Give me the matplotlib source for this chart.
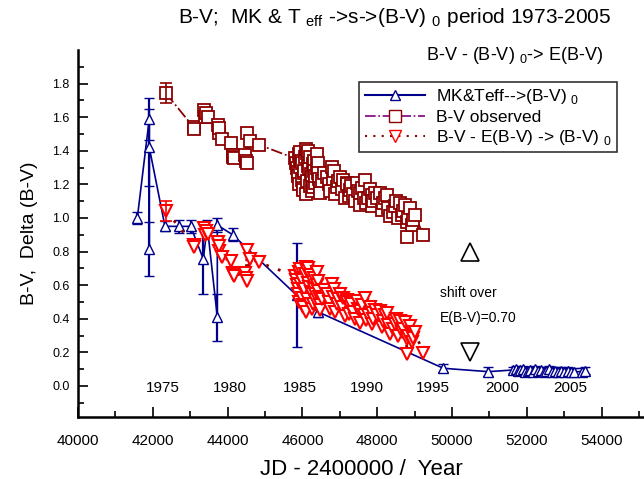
import numpy as np
import matplotlib
matplotlib.use('Agg')
import matplotlib.pyplot as plt
from matplotlib.lines import Line2D

plt.rcParams['font.family'] = ['Liberation Sans', 'DejaVu Sans']
plt.rcParams['mathtext.fontset'] = 'custom'
plt.rcParams['mathtext.rm'] = 'Liberation Sans'

# MK & Teff -> (B-V)0
blue_jd = [41586, 41906, 41906, 41906, 42326, 42700, 43013, 43350, 43457, 43725, 43725, 44136,
           45846, 46426, 49770, 50970,
           51640, 51700, 51760, 51830, 51900, 51960, 52020, 52090, 52160, 52230, 52300, 52380,
           52450, 52520, 52600, 52680, 52750, 52830, 52920, 53000, 53090, 53180, 53260, 53480, 53560]
blue_bv = [1.00, 1.59, 0.815, 1.42, 0.95, 0.95, 0.95, 0.756, 0.95, 0.41, 0.958, 0.90,
           0.54, 0.44, 0.105, 0.085,
           0.095, 0.10, 0.09, 0.095, 0.10, 0.085, 0.09, 0.095, 0.085, 0.10, 0.09, 0.095,
           0.085, 0.09, 0.10, 0.085, 0.09, 0.08, 0.09, 0.085, 0.09, 0.08, 0.085, 0.085, 0.09]
blue_err = [0.035, 0.125, 0.16, 0.23, 0.03, 0.04, 0.04, 0.21, 0.04, 0.14, 0.04, 0.04,
            0.31, 0.03, 0.025, 0.025,
            0.02, 0.02, 0.02, 0.02, 0.02, 0.02, 0.02, 0.02, 0.02, 0.02, 0.02, 0.02,
            0.02, 0.02, 0.02, 0.02, 0.02, 0.02, 0.02, 0.02, 0.02, 0.02, 0.02, 0.02, 0.02]

# B-V observed
obs_jd = [42353, 43090, 43115, 43369, 43400, 43422, 43484, 43752, 43766, 43780, 43841,
          44082, 44136, 44153, 44165, 44465, 44500, 44510, 44520, 44599, 44848,
          45802, 45830, 45850, 45870, 45880, 45900, 45920, 45936, 45936, 45960, 45981,
          46000, 46010, 46025, 46040, 46050, 46070, 46085, 46100, 46120, 46135, 46150,
          46159, 46180, 46200, 46215, 46230, 46249, 46260, 46275, 46292, 46300, 46315,
          46330, 46350, 46382, 46400, 46426, 46426, 46450, 46465, 46480, 46520, 46580,
          46650, 46700, 46740, 46784, 46820, 46850, 46880, 46918, 46960, 47006, 47050,
          47095, 47140, 47180, 47200, 47240, 47273, 47310, 47350, 47400, 47452, 47500,
          47541, 47541, 47600, 47640, 47675, 47710, 47750, 47800, 47853, 47853, 47900,
          47950, 48000, 48076, 48120, 48164, 48200, 48254, 48300, 48350, 48431, 48470,
          48500, 48565, 48610, 48650, 48700, 48740, 48788, 48788, 48830, 48877, 48920,
          48966, 49000, 49233]
obs_bv = [1.742, 1.540, 1.528, 1.643, 1.600, 1.623, 1.603, 1.554, 1.504, 1.534, 1.468,
          1.445, 1.375, 1.365, 1.355, 1.375, 1.340, 1.508, 1.325, 1.458, 1.435,
          1.355, 1.330, 1.300, 1.275, 1.250, 1.200, 1.380, 1.395, 1.305, 1.340, 1.226,
          1.330, 1.180, 1.167, 1.270, 1.280, 1.365, 1.140, 1.410, 1.220, 1.385, 1.310,
          1.400, 1.290, 1.360, 1.190, 1.260, 1.246, 1.160, 1.320, 1.186, 1.340, 1.280,
          1.210, 1.250, 1.381, 1.300, 1.325, 1.266, 1.230, 1.180, 1.150, 1.220, 1.270,
          1.246, 1.200, 1.160, 1.305, 1.230, 1.280, 1.140, 1.186, 1.220, 1.246, 1.170,
          1.226, 1.117, 1.210, 1.200, 1.130, 1.167, 1.190, 1.140, 1.100, 1.206, 1.160,
          1.147, 1.077, 1.180, 1.120, 1.226, 1.090, 1.120, 1.170, 1.137, 1.071, 1.100,
          1.150, 1.120, 1.147, 1.050, 1.087, 1.120, 1.137, 1.060, 1.010, 1.037, 1.070,
          1.100, 0.998, 1.087, 1.020, 1.040, 1.080, 0.978, 0.889, 1.000, 1.058, 0.960,
          0.988, 1.020, 0.899]
obs_err_first = 0.06

# shift over E(B-V) as written on the chart
ebv = 0.70

year_labels = ['1975', '1980', '1985', '1990', '1995', '2000', '2005']
year_x = [42273, 44064, 45936, 47727, 49492, 51337, 53155]

shift_x = 50482
shift_up_y = 0.80
shift_down_y = 0.20

navy = '#00008b'
maroon = '#8b0000'
red = '#ff0000'

obs_jd = np.array(obs_jd)
obs_bv = np.array(obs_bv)
order = np.argsort(obs_jd, kind='stable')
red_bv = obs_bv - ebv

fig = plt.figure(figsize=(6.44, 4.79), dpi=100)
ax = fig.add_axes([78/644, 62/479, 1 - 78/644, 367/479])

# blue
ax.errorbar(blue_jd, blue_bv, yerr=blue_err, color=navy, lw=1.2, elinewidth=1.6,
            capsize=3.5, capthick=1.6, marker='^', ms=7, mfc='white', mec=navy, mew=1.0,
            zorder=3)

# observed
ax.plot(obs_jd[order], obs_bv[order], color=maroon, ls='-.', lw=1.3, marker='s', ms=8,
        mfc='white', mec=maroon, mew=1.3, zorder=4)
ax.errorbar(obs_jd[:1], obs_bv[:1], yerr=obs_err_first, fmt='none', ecolor=maroon,
            elinewidth=1.2, capsize=4, capthick=1.2, zorder=4)

# shifted
ax.plot(obs_jd[order], red_bv[order], color=maroon, ls=(0, (1, 3.5)), lw=2.0, marker='v',
        ms=8, mfc='white', mec=red, mew=1.5, zorder=5)
ax.errorbar(obs_jd[:1], red_bv[:1], yerr=obs_err_first, fmt='none', ecolor=red,
            elinewidth=1.2, capsize=4, capthick=1.2, zorder=5)

# shift marks
ax.plot([shift_x], [shift_up_y], marker='^', ms=13, mfc='white', mec='black', mew=1.2,
        ls='none', zorder=6)
ax.plot([shift_x], [shift_down_y], marker='v', ms=13, mfc='white', mec='black', mew=1.2,
        ls='none', zorder=6)
ax.text(49680, 0.555, 'shift over', fontsize=10, va='center', ha='left')
ax.text(49680, 0.405, 'E(B-V)=0.70', fontsize=10, va='center', ha='left')

for lab, xx in zip(year_labels, year_x):
    ax.text(xx, -0.01, lab, fontsize=11, ha='center', va='center')

ax.set_xlim(40000, 55134)
ax.set_ylim(-0.185, 2.0)
ax.set_xticks(np.arange(40000, 54001, 2000))
ax.set_xticks(np.arange(41000, 56000, 2000), minor=True)
ax.set_yticks(np.arange(0, 1.81, 0.2))
ax.set_yticks(np.arange(-0.1, 2.0, 0.2), minor=True)
ax.set_yticklabels(['%.1f' % v for v in np.arange(0, 1.81, 0.2)])
ax.tick_params(axis='both', which='both', direction='in', width=1.2)
ax.tick_params(axis='both', which='major', length=7)
ax.tick_params(axis='both', which='minor', length=4)
ax.tick_params(axis='x', labelsize=11, pad=12)
ax.tick_params(axis='y', labelsize=9, pad=6)
for s in ['top', 'right']:
    ax.spines[s].set_visible(False)
for s in ['left', 'bottom']:
    ax.spines[s].set_linewidth(1.8)

ax.set_xlabel('JD - 2400000 /  Year', fontsize=16, labelpad=8)
ax.set_ylabel('B-V,  Delta (B-V)', fontsize=14, labelpad=10)

fig.text(0.613, 0.963, r'B-V;  MK & T $_{\mathrm{eff}}$ ->s->(B-V) $_0$ period 1973-2005',
         fontsize=15, ha='center', va='center')
fig.text(0.937, 0.885, r'B-V - (B-V) $_0$-> E(B-V)', fontsize=13, ha='right', va='center')

handles = [
    Line2D([], [], color=navy, lw=1.5, marker='^', ms=7, mfc='white', mec=navy),
    Line2D([], [], color='#800080', lw=1.2, ls='-.', marker='s', ms=8, mfc='white', mec=maroon),
    Line2D([], [], color=maroon, lw=1.5, ls=(0, (1, 3)), marker='v', ms=8, mfc='white', mec=red),
]
labels = [r'MK&Teff-->(B-V) $_0$', 'B-V observed', r'B-V - E(B-V) -> (B-V) $_0$']
leg = ax.legend(handles, labels, loc='upper left', bbox_to_anchor=(0.497, 0.913),
                fontsize=12.5, frameon=True, fancybox=False, edgecolor='black',
                handlelength=3.5, borderpad=0.3, labelspacing=0.2, handletextpad=0.6,
                borderaxespad=0)
leg.get_frame().set_linewidth(1.2)

fig.savefig('out.png', dpi=100)
